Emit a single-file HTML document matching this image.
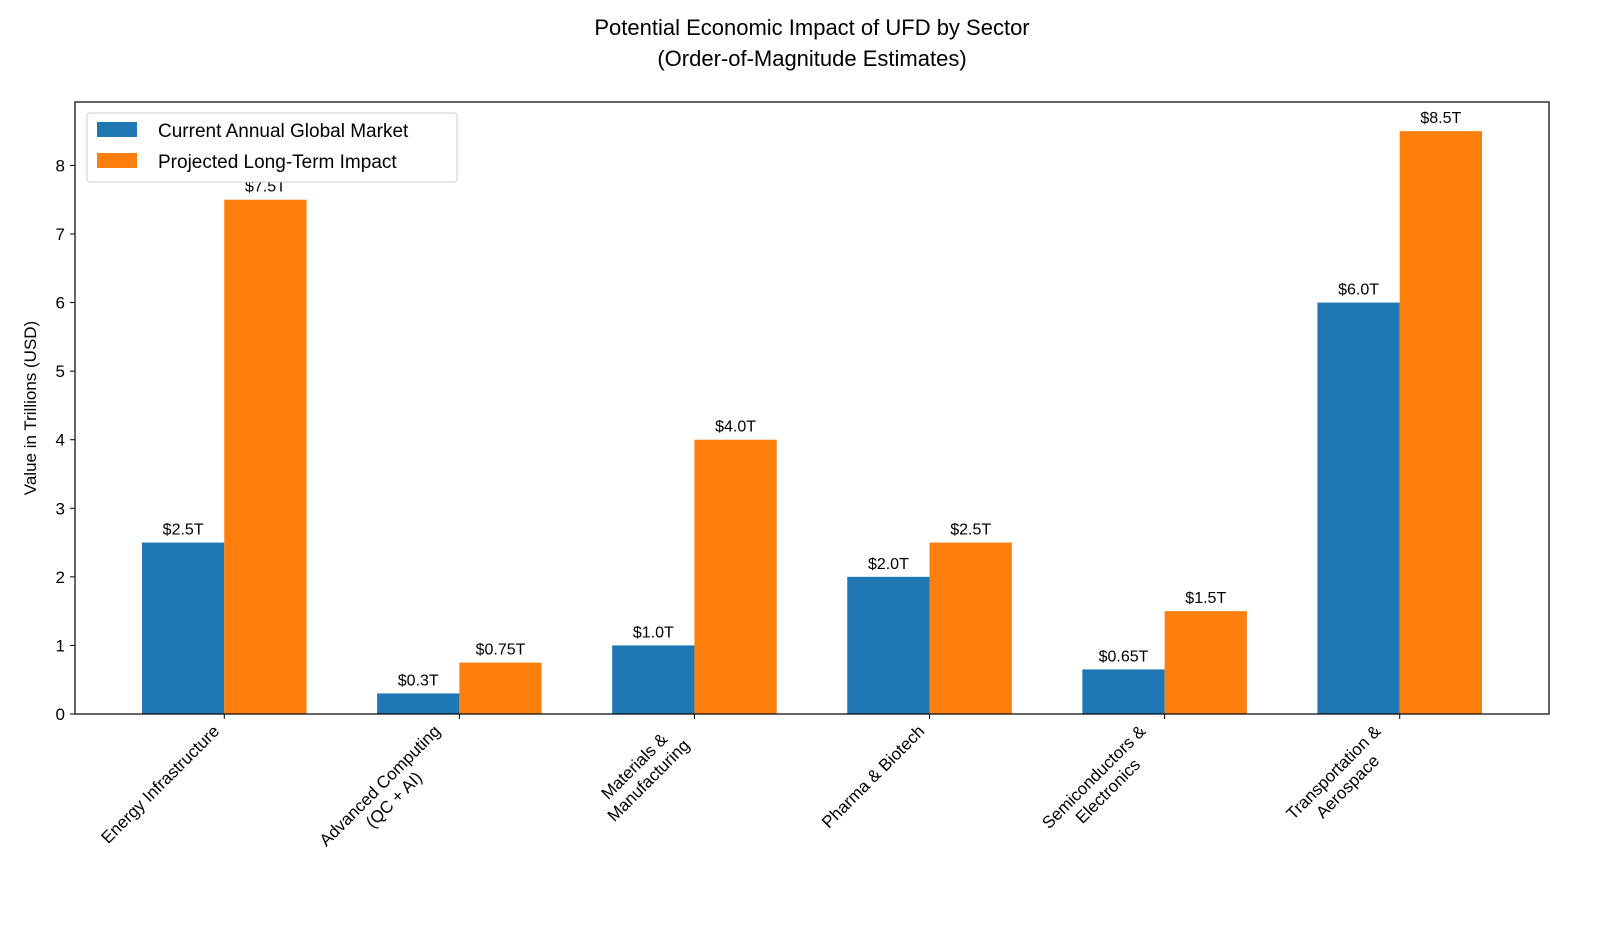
<!DOCTYPE html>
<html><head><meta charset="utf-8"><style>
body{margin:0;background:#fff}
svg{font-family:"Liberation Sans",sans-serif;display:block}
</style></head><body>
<svg id="chart" width="1600" height="933" viewBox="0 0 1600 933">
<text x="812" y="35" text-anchor="middle" font-size="22" fill="#000">Potential Economic Impact of UFD by Sector</text>
<text x="812" y="66" text-anchor="middle" font-size="22" fill="#000">(Order-of-Magnitude Estimates)</text>
<text transform="translate(36,408) rotate(-90)" text-anchor="middle" font-size="17">Value in Trillions (USD)</text>
<g id="bars"></g><g id="axes"></g>
<g>
<rect x="87" y="113" width="370" height="69" rx="3" fill="#fff" stroke="#ccc"/>
<rect x="97" y="122" width="40" height="15" fill="#1f77b4"/>
<text x="158" y="137" font-size="19">Current Annual Global Market</text>
<rect x="97" y="153" width="40" height="15" fill="#ff7f0e"/>
<text x="158" y="168" font-size="19">Projected Long-Term Impact</text>
</g>
</svg>
<script>
const categories=[["Energy Infrastructure"],["Advanced Computing","(QC + AI)"],["Materials &","Manufacturing"],["Pharma & Biotech"],["Semiconductors &","Electronics"],["Transportation &","Aerospace"]];
const currentVals=[2.5,0.3,1.0,2.0,0.65,6.0];
const projectedVals=[7.5,0.75,4.0,2.5,1.5,8.5];
const currentLabels=["$2.5T","$0.3T","$1.0T","$2.0T","$0.65T","$6.0T"];
const projectedLabels=["$7.5T","$0.75T","$4.0T","$2.5T","$1.5T","$8.5T"];
const yTicks=[0,1,2,3,4,5,6,7,8];
const NS="http://www.w3.org/2000/svg";
const L=75,R=1549,T=102,B=714;
const n=categories.length,bw=0.35;
const allV=currentVals.concat(projectedVals);
const ymax=Math.max(...allV)*1.05;
const x0=-bw-(n-1+2*bw)*0.05, x1=n-1+bw+(n-1+2*bw)*0.05;
const X=v=>L+(v-x0)/(x1-x0)*(R-L);
const Y=v=>B-v/ymax*(B-T);
function mk(tag,attrs,parent){const e=document.createElementNS(NS,tag);for(const k in attrs)e.setAttribute(k,attrs[k]);parent.appendChild(e);return e;}
const bars=document.getElementById('bars'),axes=document.getElementById('axes');
for(let i=0;i<n;i++){
  [[currentVals,currentLabels,'#1f77b4',-bw,'current'],[projectedVals,projectedLabels,'#ff7f0e',0,'projected']].forEach(([vals,labs,col,off,nm])=>{
    const r=mk('rect',{x:X(i+off),y:Y(vals[i]),width:X(bw)-X(0),height:Y(0)-Y(vals[i]),fill:col},bars);
    
    
    const t=mk('text',{x:X(i+off+bw/2),y:Y(vals[i])-8,'text-anchor':'middle','font-size':16},bars);
    t.textContent=labs[i];
    
    
  });
}
const frame=mk('rect',{x:L,y:T,width:R-L,height:B-T,fill:'none',stroke:'#000','stroke-width':1.2},axes);


yTicks.forEach(v=>{
  mk('line',{x1:L-5,x2:L,y1:Y(v),y2:Y(v),stroke:'#000'},axes);
  const t=mk('text',{x:L-10,y:Y(v)+6,'text-anchor':'end','font-size':17},axes);
  t.textContent=v;
  
  
});
const c=Math.SQRT1_2,fs=17,lh=20;
categories.forEach((lines,i)=>{
  const tx=X(i);
  mk('line',{x1:tx,x2:tx,y1:B,y2:B+5,stroke:'#000'},axes);
  const g=mk('g',{},axes);
  
  
  const ts=lines.map((s,j)=>{const t=mk('text',{'font-size':fs,'text-anchor':'middle',y:fs*0.85+j*lh},g);t.textContent=s;return t;});
  const W=Math.max(...ts.map(t=>t.getComputedTextLength()));
  const H=lines.length*lh;
  ts.forEach(t=>t.setAttribute('x',W/2));
  g.setAttribute('transform',`translate(${tx-(W+H)*c},${B+8+W*c}) rotate(-45)`);
});
</script>
</body></html>
